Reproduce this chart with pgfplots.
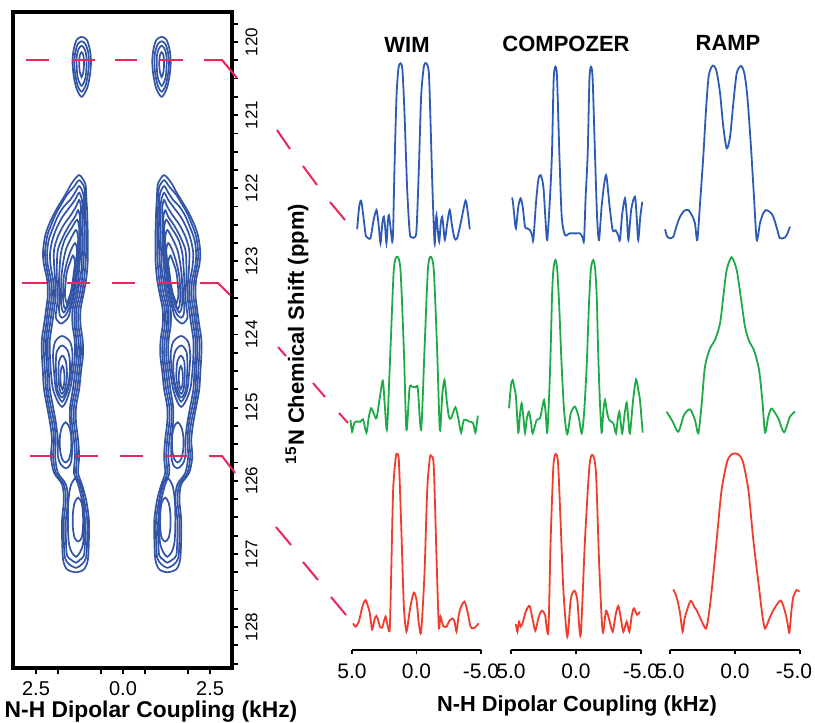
\documentclass[border=0pt]{standalone}
\usepackage{fontspec}
\setmainfont{Liberation Sans}
\usepackage{pgfplots}
\pgfplotsset{compat=1.18}
\usepackage{pgfplotstable}
\definecolor{cblue}{RGB}{50,84,166}
\definecolor{sblue}{RGB}{45,90,180}
\definecolor{sgreen}{RGB}{30,170,70}
\definecolor{sred}{RGB}{240,60,45}
\definecolor{dashred}{RGB}{232,40,90}

% ---------- contour levels, left column (kHz, ppm) ----------
\pgfplotstableread{
x y
-1.26 121.82
-1.09 121.93
-1.06 122.05
-1.05 122.16
-1.03 122.32
-1.02 122.50
-1.01 122.66
-1.01 122.88
-1.02 123.05
-1.06 123.25
-1.14 123.46
-1.22 123.66
-1.22 123.87
-1.16 124.07
-1.15 124.28
-1.21 124.52
-1.26 124.75
-1.35 124.99
-1.35 125.20
-1.29 125.44
-1.26 125.67
-1.29 125.89
-1.18 126.05
-1.06 126.26
-0.98 126.53
-0.98 126.80
-1.01 127.08
-1.12 127.21
-1.35 127.25
-1.61 127.21
-1.72 127.08
-1.75 126.80
-1.75 126.53
-1.70 126.26
-1.75 126.05
-1.98 125.89
-2.07 125.67
-2.04 125.44
-2.10 125.20
-2.18 124.99
-2.27 124.75
-2.30 124.52
-2.33 124.28
-2.33 124.07
-2.27 123.87
-2.21 123.66
-2.16 123.46
-2.18 123.25
-2.27 123.05
-2.30 122.88
-2.24 122.66
-2.13 122.50
-1.95 122.32
-1.75 122.16
-1.61 122.05
-1.47 121.93
}\CA
\pgfplotstableread{
x y
-1.26 121.89
-1.12 121.98
-1.09 122.09
-1.09 122.20
-1.08 122.35
-1.06 122.51
-1.06 122.66
-1.06 122.88
-1.08 123.05
-1.12 123.25
-1.19 123.46
-1.28 123.66
-1.28 123.87
-1.22 124.07
-1.21 124.28
-1.26 124.52
-1.32 124.75
-1.41 124.99
-1.41 125.20
-1.35 125.44
-1.32 125.67
-1.35 125.89
-1.24 126.05
-1.12 126.26
-1.03 126.53
-1.03 126.80
-1.06 127.05
-1.18 127.14
-1.35 127.19
-1.55 127.14
-1.67 127.05
-1.70 126.80
-1.70 126.53
-1.64 126.26
-1.70 126.05
-1.93 125.89
-2.01 125.67
-1.98 125.44
-2.04 125.20
-2.13 124.99
-2.21 124.75
-2.24 124.52
-2.27 124.28
-2.27 124.07
-2.21 123.87
-2.16 123.66
-2.10 123.46
-2.13 123.25
-2.21 123.05
-2.24 122.88
-2.18 122.66
-2.07 122.51
-1.93 122.35
-1.75 122.20
-1.61 122.09
-1.41 121.98
}\CB
\pgfplotstableread{
x y
-1.26 121.97
-1.15 122.06
-1.12 122.16
-1.12 122.25
-1.12 122.38
-1.11 122.54
-1.11 122.70
-1.12 122.88
-1.14 123.05
-1.18 123.25
-1.25 123.46
-1.34 123.66
-1.34 123.87
-1.28 124.07
-1.26 124.28
-1.32 124.52
-1.38 124.75
-1.47 124.99
-1.47 125.20
-1.41 125.44
-1.38 125.67
-1.41 125.89
-1.29 126.05
-1.18 126.26
-1.09 126.53
-1.09 126.80
-1.12 127.02
-1.24 127.08
-1.35 127.12
-1.49 127.08
-1.61 127.02
-1.64 126.80
-1.64 126.53
-1.58 126.26
-1.64 126.05
-1.87 125.89
-1.95 125.67
-1.93 125.44
-1.98 125.20
-2.07 124.99
-2.16 124.75
-2.18 124.52
-2.21 124.28
-2.21 124.07
-2.16 123.87
-2.10 123.66
-2.04 123.46
-2.07 123.25
-2.16 123.05
-2.18 122.88
-2.13 122.70
-2.01 122.54
-1.87 122.38
-1.70 122.25
-1.52 122.16
-1.38 122.06
}\CC
\pgfplotstableread{
x y
-1.26 122.06
-1.18 122.16
-1.16 122.27
-1.16 122.40
-1.16 122.57
-1.16 122.73
-1.18 122.91
-1.19 123.09
-1.24 123.25
-1.31 123.46
-1.39 123.66
-1.39 123.87
-1.34 124.07
-1.32 124.28
-1.38 124.52
-1.44 124.75
-1.52 124.99
-1.52 125.20
-1.47 125.44
-1.47 125.67
-1.52 125.78
-1.64 125.83
-1.78 125.78
-1.87 125.67
-1.87 125.44
-1.93 125.20
-2.01 124.99
-2.10 124.75
-2.13 124.52
-2.16 124.28
-2.16 124.07
-2.10 123.87
-2.04 123.66
-1.98 123.46
-2.01 123.25
-2.07 123.09
-2.10 122.91
-2.04 122.73
-1.93 122.57
-1.75 122.40
-1.55 122.27
-1.38 122.16
}\CDt
\pgfplotstableread{
x y
-1.35 125.96
-1.21 126.05
-1.15 126.19
-1.12 126.39
-1.12 126.67
-1.15 126.87
-1.24 126.98
-1.35 127.04
-1.47 126.98
-1.55 126.87
-1.58 126.67
-1.58 126.39
-1.55 126.19
-1.49 126.05
}\CDb
\pgfplotstableread{
x y
-1.26 122.16
-1.21 122.25
-1.21 122.36
-1.21 122.50
-1.21 122.66
-1.22 122.84
-1.25 123.05
-1.29 123.25
-1.36 123.46
-1.45 123.66
-1.45 123.87
-1.39 124.07
-1.38 124.28
-1.44 124.52
-1.52 124.75
-1.64 124.92
-1.75 124.99
-1.87 124.92
-2.01 124.75
-2.07 124.52
-2.10 124.28
-2.10 124.07
-2.04 123.87
-1.98 123.66
-1.93 123.46
-1.95 123.25
-1.98 123.05
-1.98 122.84
-1.87 122.66
-1.70 122.50
-1.49 122.36
-1.35 122.25
}\CEt
\pgfplotstableread{
x y
-1.65 125.20
-1.55 125.26
-1.49 125.38
-1.49 125.57
-1.55 125.70
-1.65 125.75
-1.75 125.70
-1.81 125.57
-1.81 125.38
-1.75 125.26
}\CW
\pgfplotstableread{
x y
-1.29 126.23
-1.19 126.30
-1.15 126.45
-1.15 126.64
-1.19 126.78
-1.29 126.83
-1.39 126.78
-1.44 126.64
-1.44 126.45
-1.39 126.30
}\CEb
\pgfplotstableread{
x y
-1.29 122.30
-1.24 122.39
-1.24 122.51
-1.24 122.66
-1.25 122.84
-1.29 123.05
-1.34 123.25
-1.41 123.46
-1.49 123.62
-1.58 123.77
-1.78 123.85
-1.93 123.77
-1.90 123.62
-1.87 123.46
-1.90 123.25
-1.90 123.05
-1.87 122.84
-1.72 122.66
-1.55 122.51
-1.38 122.39
}\CFu
\pgfplotstableread{
x y
-1.75 124.02
-1.52 124.10
-1.45 124.28
-1.49 124.52
-1.58 124.75
-1.67 124.86
-1.75 124.92
-1.84 124.86
-1.93 124.75
-1.98 124.52
-2.01 124.28
-1.95 124.10
}\CFm
\pgfplotstableread{
x y
-1.32 122.43
-1.26 122.54
-1.26 122.70
-1.29 122.88
-1.34 123.09
-1.38 123.29
-1.45 123.48
-1.54 123.63
-1.64 123.73
-1.75 123.77
-1.82 123.73
-1.84 123.63
-1.82 123.48
-1.84 123.29
-1.82 123.09
-1.78 122.88
-1.67 122.70
-1.47 122.54
}\CGu
\pgfplotstableread{
x y
-1.75 124.15
-1.58 124.23
-1.52 124.41
-1.55 124.62
-1.64 124.78
-1.75 124.86
-1.87 124.78
-1.91 124.62
-1.93 124.41
-1.90 124.23
}\CGm
\pgfplotstableread{
x y
-1.35 122.57
-1.29 122.68
-1.31 122.84
-1.35 123.02
-1.39 123.22
-1.47 123.42
-1.55 123.57
-1.64 123.66
-1.70 123.70
-1.75 123.66
-1.78 123.57
-1.78 123.42
-1.77 123.22
-1.72 123.02
-1.64 122.84
-1.49 122.68
}\CHu
\pgfplotstableread{
x y
-1.74 124.29
-1.64 124.37
-1.61 124.58
-1.67 124.75
-1.75 124.81
-1.82 124.75
-1.85 124.58
-1.84 124.37
}\CHm
\pgfplotstableread{
x y
-1.38 122.75
-1.32 122.84
-1.35 123.01
-1.41 123.21
-1.47 123.39
-1.54 123.52
-1.61 123.61
-1.65 123.65
-1.70 123.61
-1.72 123.52
-1.72 123.39
-1.70 123.21
-1.61 123.01
-1.49 122.84
}\CIu
\pgfplotstableread{
x y
-1.74 124.43
-1.70 124.48
-1.68 124.59
-1.70 124.70
-1.74 124.75
-1.78 124.70
-1.80 124.59
-1.78 124.48
}\CIm
\pgfplotstableread{
x y
-1.44 122.92
-1.38 123.01
-1.41 123.14
-1.45 123.29
-1.51 123.44
-1.57 123.52
-1.61 123.58
-1.65 123.52
-1.67 123.44
-1.65 123.29
-1.61 123.14
-1.52 123.01
}\CJ
\pgfplotstableread{
x y
-1.19 119.93
-1.04 119.97
-0.95 120.11
-0.92 120.27
-0.95 120.45
-1.03 120.63
-1.19 120.75
-1.34 120.63
-1.42 120.45
-1.45 120.27
-1.42 120.11
-1.33 119.97
}\TA
\pgfplotstableread{
x y
-1.19 119.99
-1.08 120.03
-1.00 120.14
-0.98 120.29
-1.01 120.45
-1.08 120.60
-1.19 120.68
-1.30 120.60
-1.37 120.45
-1.40 120.29
-1.37 120.14
-1.30 120.03
}\TB
\pgfplotstableread{
x y
-1.19 120.05
-1.10 120.10
-1.05 120.20
-1.05 120.34
-1.08 120.49
-1.19 120.60
-1.30 120.49
-1.33 120.34
-1.33 120.20
-1.28 120.10
}\TC
\pgfplotstableread{
x y
-1.19 120.14
-1.14 120.18
-1.12 120.30
-1.14 120.41
-1.19 120.48
-1.24 120.41
-1.26 120.30
-1.24 120.18
}\TD

% ---------- 1D slices (kHz, normalised intensity) ----------
\pgfplotstableread{
x y
4.60 0.078
4.45 0.20
4.29 0.237
4.12 0.15
3.95 0.05
3.88 0.037
3.57 0.028
3.35 0.12
3.10 0.185
2.92 0.09
2.79 0.0
2.65 0.11
2.53 0.148
2.42 0.08
2.33 0.0
2.22 0.12
2.14 0.157
2.00 0.08
1.88 0.009
1.81 0.074
1.71 0.407
1.55 0.815
1.40 0.972
1.24 1.0
1.09 0.963
0.93 0.722
0.72 0.296
0.52 0.056
0.34 0.033
0.16 0.033
0.00 0.074
-0.18 0.407
-0.36 0.815
-0.57 0.981
-0.77 1.0
-0.96 0.944
-1.09 0.667
-1.24 0.296
-1.40 0.0
-1.48 0.10
-1.55 0.157
-1.64 0.08
-1.76 0.009
-1.88 0.11
-1.99 0.148
-2.10 0.08
-2.20 0.019
-2.40 0.12
-2.58 0.185
-2.75 0.10
-2.95 0.028
-3.15 0.028
-3.45 0.12
-3.80 0.237
-3.98 0.17
-4.13 0.078
}\BW
\pgfplotstableread{
x y
4.95 0.243
4.87 0.234
4.74 0.138
4.62 0.071
4.44 0.195
4.26 0.243
4.10 0.195
3.92 0.080
3.74 0.071
3.54 0.061
3.38 0.033
3.28 0.004
3.08 0.215
2.90 0.349
2.72 0.377
2.51 0.310
2.33 0.10
2.21 0.004
2.00 0.25
1.85 0.50
1.72 0.92
1.59 1.00
1.46 0.94
1.28 0.50
1.10 0.14
0.85 0.033
0.50 0.042
0.00 0.042
-0.31 0.042
-0.50 0.02
-0.62 0.004
-0.74 0.25
-0.90 0.50
-1.03 0.92
-1.15 1.00
-1.28 0.93
-1.46 0.50
-1.62 0.14
-1.77 0.004
-2.00 0.22
-2.31 0.377
-2.58 0.20
-2.82 0.061
-3.05 0.06
-3.25 0.03
-3.38 0.004
-3.55 0.15
-3.77 0.243
-3.92 0.13
-4.03 0.004
-4.25 0.18
-4.54 0.253
-4.68 0.12
-4.79 0.004
-4.95 0.14
-5.10 0.224
}\BC
\pgfplotstableread{
x y
5.38 0.061
5.22 0.02
5.05 0.010
4.74 0.019
4.50 0.08
4.23 0.134
3.90 0.168
3.59 0.172
3.30 0.14
3.08 0.096
2.90 0.0
2.69 0.21
2.44 0.479
2.23 0.747
2.03 0.939
1.79 0.996
1.62 1.0
1.41 0.967
1.15 0.843
0.90 0.651
0.64 0.527
0.38 0.594
0.13 0.785
-0.13 0.958
-0.46 1.0
-0.72 0.958
-0.95 0.824
-1.21 0.556
-1.46 0.249
-1.67 0.0
-1.92 0.096
-2.15 0.15
-2.38 0.172
-2.70 0.16
-2.95 0.134
-3.25 0.06
-3.46 0.010
-3.85 0.015
-4.05 0.04
-4.23 0.077
}\BR
\pgfplotstableread{
x y
5.12 0.075
4.99 0.009
4.86 0.05
4.73 0.066
4.34 0.066
4.14 0.079
3.88 0.004
3.70 0.09
3.52 0.142
3.31 0.113
3.10 0.085
2.85 0.20
2.61 0.298
2.45 0.15
2.28 0.028
2.02 0.472
1.76 0.925
1.50 1.0
1.24 0.925
0.98 0.472
0.78 0.019
0.54 0.255
0.34 0.264
0.08 0.260
-0.10 0.255
-0.36 0.019
-0.62 0.472
-0.88 0.925
-1.09 1.0
-1.34 0.925
-1.60 0.472
-1.81 0.019
-2.00 0.22
-2.17 0.302
-2.35 0.18
-2.51 0.094
-2.68 0.085
-3.02 0.147
-3.25 0.08
-3.46 0.004
-3.67 0.075
-4.13 0.066
-4.39 0.057
-4.57 0.004
-4.75 0.1
}\GW
\pgfplotstableread{
x y
5.15 0.148
5.00 0.28
4.87 0.310
4.75 0.27
4.62 0.215
4.44 0.008
4.30 0.12
4.18 0.176
4.05 0.10
3.92 0.008
3.78 0.09
3.62 0.128
3.47 0.07
3.33 0.004
3.03 0.080
2.77 0.090
2.60 0.15
2.46 0.195
2.33 0.12
2.21 0.008
2.05 0.25
1.95 0.483
1.84 0.80
1.74 0.943
1.59 1.0
1.45 0.95
1.30 0.75
1.10 0.387
0.90 0.12
0.67 0.0
0.40 0.12
0.08 0.157
-0.20 0.10
-0.44 0.004
-0.62 0.12
-0.82 0.387
-1.00 0.75
-1.15 0.95
-1.33 1.0
-1.48 0.943
-1.60 0.78
-1.70 0.483
-1.82 0.22
-1.97 0.008
-2.10 0.13
-2.23 0.195
-2.40 0.12
-2.56 0.080
-2.87 0.061
-3.08 0.004
-3.20 0.08
-3.33 0.128
-3.45 0.06
-3.56 0.004
-3.75 0.12
-3.90 0.180
-4.03 0.08
-4.15 0.004
-4.40 0.20
-4.62 0.314
-4.80 0.25
-4.92 0.195
-5.13 0.008
}\GC
\pgfplotstableread{
x y
5.26 0.123
4.79 0.066
4.36 0.009
3.92 0.104
3.46 0.136
3.08 0.076
2.82 0.0
2.56 0.17
2.31 0.379
1.92 0.483
1.54 0.530
1.15 0.625
0.90 0.777
0.64 0.928
0.26 1.0
-0.13 0.928
-0.44 0.777
-0.77 0.606
-1.10 0.521
-1.46 0.473
-1.85 0.360
-2.10 0.189
-2.31 0.004
-2.56 0.095
-2.82 0.140
-3.33 0.085
-3.77 0.006
-4.23 0.095
-4.62 0.123
}\GR
\pgfplotstableread{
x y
4.91 0.047
4.73 0.028
4.47 0.057
4.20 0.14
3.95 0.179
3.75 0.14
3.62 0.104
3.44 0.013
3.25 0.07
3.10 0.089
2.95 0.06
2.84 0.028
2.66 0.023
2.52 0.06
2.40 0.085
2.28 0.05
2.19 0.019
2.07 0.019
1.96 0.330
1.81 0.802
1.60 0.991
1.50 1.0
1.37 0.972
1.19 0.613
0.98 0.142
0.78 0.0
0.60 0.08
0.47 0.142
0.21 0.221
0.00 0.179
-0.18 0.047
-0.36 0.0
-0.62 0.330
-0.83 0.802
-1.03 0.981
-1.16 0.994
-1.34 0.934
-1.55 0.425
-1.73 0.028
-1.86 0.085
-2.07 0.032
-2.33 0.028
-2.51 0.057
-2.77 0.075
-2.95 0.057
-3.10 0.0
-3.25 0.08
-3.41 0.132
-3.72 0.170
-3.98 0.104
-4.19 0.028
-4.44 0.019
-4.83 0.047
}\RW
\pgfplotstableread{
x y
4.62 0.069
4.51 0.027
4.38 0.082
4.26 0.055
4.10 0.077
3.85 0.14
3.57 0.168
3.35 0.10
3.13 0.033
2.90 0.10
2.64 0.142
2.38 0.119
2.13 0.027
1.95 0.529
1.74 0.931
1.56 1.0
1.38 0.949
1.18 0.620
0.97 0.255
0.67 0.0
0.41 0.201
0.13 0.252
-0.10 0.201
-0.36 0.009
-0.69 0.529
-1.03 0.931
-1.28 0.995
-1.54 0.894
-1.79 0.383
-2.05 0.027
-2.31 0.142
-2.56 0.091
-2.82 0.027
-3.05 0.12
-3.26 0.168
-3.45 0.10
-3.64 0.027
-3.90 0.082
-4.10 0.027
-4.30 0.12
-4.46 0.155
-4.70 0.12
-4.92 0.137
}\RC
\pgfplotstableread{
x y
4.74 0.242
4.50 0.20
4.25 0.12
4.03 0.006
3.90 0.07
3.77 0.108
3.41 0.178
3.10 0.14
2.95 0.126
2.60 0.07
2.23 0.024
2.00 0.11
1.79 0.238
1.41 0.517
1.03 0.796
0.60 0.955
0.25 0.995
0.00 1.0
-0.25 0.995
-0.60 0.955
-1.03 0.796
-1.41 0.517
-1.87 0.238
-2.10 0.10
-2.31 0.024
-2.65 0.08
-2.95 0.126
-3.51 0.180
-3.85 0.117
-4.05 0.05
-4.18 0.0
-4.35 0.13
-4.49 0.201
-4.74 0.238
-4.95 0.229
}\RR

\pgfplotsset{
  spec/.style={scale only axis, clip=false, xmin=-5, xmax=5,
    x dir=reverse, ymin=0, ymax=1, anchor=south west},
  spectop/.style={spec, hide axis},
  specbot/.style={spec, axis x line*=bottom, hide y axis,
    xtick={5,0,-5}, xticklabels={5.0,0.0,-5.0}, tick align=outside,
    major tick length=2.2pt, x axis line style={line width=1pt, black},
    xtick style={line width=0.9pt, black},
    xticklabel style={font=\fontsize{10.5}{12}\selectfont, yshift=-1pt}},
  sline/.style={smooth, tension=0.45, line width=0.9pt, no markers},
  ct/.style={cblue, line width=0.85pt, smooth cycle, no markers},
}

\newcommand{\contour}[1]{%
  \addplot[ct] table[x=x,y=y]{#1};
  \addplot[ct] table[x expr=-\thisrow{x}-0.08, y=y]{#1};}

\begin{document}
\begin{tikzpicture}
\useasboundingbox (0,0) rectangle (407.5pt,-361.5pt);

% ---------- 2D contour panel ----------
\begin{axis}[at={(6.5pt,-334pt)}, anchor=south west, scale only axis,
  width=109.5pt, height=328pt,
  xmin=-3.16, xmax=3.13, ymin=119.59, ymax=128.56, y dir=reverse,
  axis line style={line width=2pt},
  xtick={-2.5,0,2.5}, xticklabels={2.5,0.0,2.5},
  minor xtick={-1.875,-0.625,0.625,1.875},
  ytick={120,121,122,123,124,125,126,127,128},
  yticklabels={120,121,122,123,124,125,126,127,128},
  minor ytick={119.75,120.25,120.5,120.75,121.25,121.5,121.75,122.25,122.5,122.75,123.25,123.5,123.75,124.25,124.5,124.75,125.25,125.5,125.75,126.25,126.5,126.75,127.25,127.5,127.75,128.25,128.5},
  xtick pos=left, ytick pos=right, tick align=outside,
  major tick length=3.2pt, minor tick length=3.2pt,
  tick style={line width=0.9pt, black},
  xticklabel style={font=\fontsize{10}{12}\selectfont},
  yticklabel style={font=\fontsize{8.5}{10}\selectfont, rotate=90, anchor=north},
  clip=true]
\contour{\CA}
\contour{\CB}
\contour{\CC}
\contour{\CDt}
\contour{\CDb}
\contour{\CEt}
\contour{\CW}
\contour{\CEb}
\contour{\CFu}
\contour{\CFm}
\contour{\CGu}
\contour{\CGm}
\contour{\CHu}
\contour{\CHm}
\contour{\CIu}
\contour{\CIm}
\contour{\CJ}
\contour{\TA}
\contour{\TB}
\contour{\TC}
\contour{\TD}
\end{axis}

% ---------- slices ----------
\begin{axis}[spectop, at={(176pt,-121.65pt)}, width=64.5pt, height=90pt]
\addplot[sline, sblue] table{\BW};
\end{axis}
\begin{axis}[spectop, at={(255.5pt,-120.35pt)}, width=65pt, height=87pt]
\addplot[sline, sblue] table{\BC};
\end{axis}
\begin{axis}[spectop, at={(335pt,-120pt)}, width=65pt, height=87pt]
\addplot[sline, sblue] table{\BR};
\end{axis}

\begin{axis}[spectop, at={(176pt,-216.65pt)}, width=64.5pt, height=88.3pt]
\addplot[sline, sgreen] table{\GW};
\end{axis}
\begin{axis}[spectop, at={(255.5pt,-217pt)}, width=65pt, height=87pt]
\addplot[sline, sgreen] table{\GC};
\end{axis}
\begin{axis}[spectop, at={(335pt,-216.65pt)}, width=65pt, height=88pt]
\addplot[sline, sgreen] table{\GR};
\end{axis}

\begin{axis}[specbot, at={(176pt,-325pt)}, width=64.5pt, height=97.5pt, ymin=-0.104]
\addplot[sline, sred] table{\RW};
\end{axis}
\begin{axis}[specbot, at={(255.5pt,-325pt)}, width=65pt, height=98pt, ymin=-0.073]
\addplot[sline, sred] table{\RC};
\end{axis}
\begin{axis}[specbot, at={(335pt,-325pt)}, width=65pt, height=98.35pt, ymin=-0.096,
  xtick={5,0}, xticklabels={5.0,0.0},
  extra x ticks={-5}, extra x tick labels={-5.0},
  extra x tick style={xticklabel style={xshift=-3pt}}]
\addplot[sline, sred] table{\RR};
\end{axis}

% ---------- connecting dashed guides ----------
\begin{scope}[x=0.5pt, y=-0.5pt, dashred, line width=1pt]
\draw (26,60)--(49,60); \draw (72,60)--(95,60); \draw (115,60)--(137,60);
\draw (160,60)--(183,60); \draw (204,60)--(222,60)--(237,78);
\draw (277,130)--(290,149); \draw (303,166)--(317,185); \draw (330,202)--(345,220);
\draw (22,283)--(47,283); \draw (67,283)--(90,283); \draw (112,283)--(135,283);
\draw (157,283)--(180,283); \draw (200,283)--(218,283)--(230,295);
\draw (278,347)--(286,356); \draw (313,383)--(325,397); \draw (339,413)--(348,423);
\draw (30,456)--(53,456); \draw (76,456)--(98,456); \draw (120,456)--(143,456);
\draw (165,456)--(187,456); \draw (209,456)--(222,456)--(235,473);
\draw (276,527)--(291,545); \draw (303,562)--(318,580); \draw (331,597)--(346,615);
\end{scope}

% ---------- text ----------
\node[font=\bfseries\fontsize{11}{13}\selectfont] at (203.5pt,-22.5pt) {WIM};
\node[font=\bfseries\fontsize{11}{13}\selectfont] at (283pt,-22pt) {COMPOZER};
\node[font=\bfseries\fontsize{11}{13}\selectfont] at (364pt,-21.5pt) {RAMP};
\node[font=\bfseries\fontsize{11}{13}\selectfont, rotate=90] at (148.5pt,-167pt) {\textsuperscript{15}N Chemical Shift (ppm)};
\node[font=\bfseries\fontsize{11.4}{13}\selectfont] at (75.5pt,-356pt) {N-H Dipolar Coupling (kHz)};
\node[font=\bfseries\fontsize{10.9}{13}\selectfont] at (288.5pt,-353pt) {N-H Dipolar Coupling (kHz)};
\end{tikzpicture}
\end{document}
